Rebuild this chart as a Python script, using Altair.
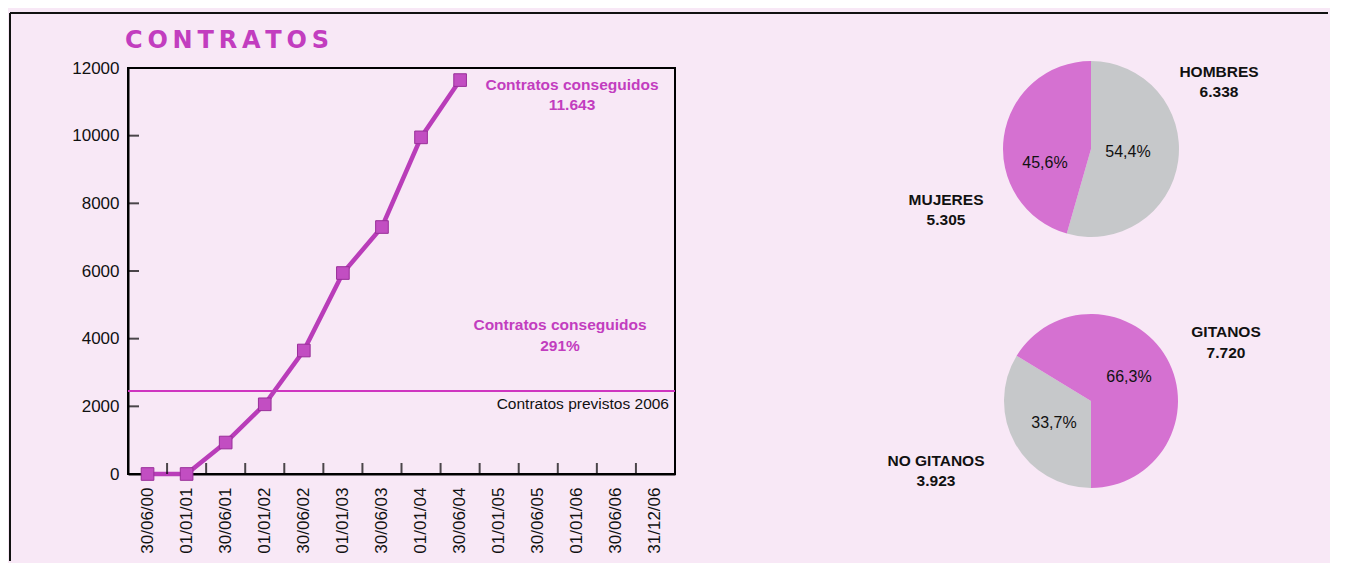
import math
import altair as alt
import pandas as pd

# ---------------- data ----------------
fechas = ["30/06/00", "01/01/01", "30/06/01", "01/01/02", "30/06/02", "01/01/03",
          "30/06/03", "01/01/04", "30/06/04", "01/01/05", "30/06/05", "01/01/06",
          "30/06/06", "31/12/06"]
contratos = [0, 0, 930, 2060, 3650, 5940, 7300, 9950, 11643]
previstos = 2450
y_ticks = [0, 2000, 4000, 6000, 8000, 10000, 12000]

titulo = "CONTRATOS"
txt_conseguidos = "Contratos conseguidos"
txt_total = "11.643"
txt_pct = "291%"
txt_previstos = "Contratos previstos 2006"

sexo = ["HOMBRES", "MUJERES"]
sexo_val = [6338, 5305]
sexo_num = ["6.338", "5.305"]
sexo_pct = ["54,4%", "45,6%"]

etnia = ["NO GITANOS", "GITANOS"]
etnia_val = [3923, 7720]
etnia_num = ["3.923", "7.720"]
etnia_pct = ["33,7%", "66,3%"]

# ---------------- style ----------------
BG = "#f8e8f6"
MAG_LINE = "#b93db9"
MAG_MARK = "#c24ec2"
MAG_TEXT = "#c23dbf"
MAG_RULE = "#cf35c0"
PIE_MAG = "#d571d1"
PIE_GRAY = "#c6c8ca"
FONT = "Liberation Sans"

W1, H1 = 547, 406
W2, H2 = 560, 406

# ---------------- line chart ----------------
df_line = pd.DataFrame({"fecha": fechas[:len(contratos)], "valor": contratos})
df_xt = pd.DataFrame({"fecha": fechas[1:]})
df_yt = pd.DataFrame({"valor": y_ticks[1:-1]})
one = pd.DataFrame({"a": [0]})

xscale = alt.Scale(domain=fechas, paddingInner=0, paddingOuter=0)
yscale = alt.Scale(domain=[0, 12000])

xaxis = alt.Axis(labelAngle=-90, labelFontSize=17, labelColor="#111", tickSize=0,
                 labelPadding=13, domainColor="black", domainWidth=2, grid=False,
                 labelOverlap=False, title=None, labelFont=FONT)
yaxis = alt.Axis(values=y_ticks, format="d", labelFontSize=17, labelColor="#111",
                 tickSize=0, labelPadding=9, domainColor="black", domainWidth=2,
                 grid=False, title=None, labelFont=FONT)

base = alt.Chart(df_line).encode(
    x=alt.X("fecha:N", scale=xscale, axis=xaxis, sort=fechas),
    y=alt.Y("valor:Q", scale=yscale, axis=yaxis),
)
line = base.mark_line(color=MAG_LINE, strokeWidth=4.5)
pts = base.mark_square(size=160, color=MAG_MARK, stroke="#992f99", strokeWidth=1, opacity=1)

xt = alt.Chart(df_xt).mark_tick(orient="vertical", size=11, thickness=2, color="black").encode(
    x=alt.X("fecha:N", scale=xscale, sort=fechas, bandPosition=0),
    y=alt.value(H1 - 5.5),
)
yt = alt.Chart(df_yt).mark_tick(orient="horizontal", size=11, thickness=2, color="black").encode(
    y=alt.Y("valor:Q", scale=yscale),
    x=alt.value(5.5),
)

rule = alt.Chart(pd.DataFrame({"valor": [previstos]})).mark_rule(
    color=MAG_RULE, strokeWidth=2).encode(y=alt.Y("valor:Q", scale=yscale))


def label(text, x, y, color="#111", size=15, weight="normal", align="center", font=FONT):
    return alt.Chart(one).mark_text(
        text=text, color=color, fontSize=size, fontWeight=weight, align=align,
        baseline="middle", font=font
    ).encode(x=alt.value(x), y=alt.value(y))


title_mark = alt.Chart(one).mark_text(
    text="\u2009".join(titulo), color=MAG_TEXT, fontSize=24, fontWeight="bold",
    font="DejaVu Sans", align="left", baseline="alphabetic"
).encode(x=alt.value(-3), y=alt.value(-20))

ann = [
    label(txt_conseguidos, 444, 17, MAG_TEXT, 15.5, "bold"),
    label(txt_total, 444, 37, MAG_TEXT, 15.5, "bold"),
    label(txt_conseguidos, 432, 257, MAG_TEXT, 15.5, "bold"),
    label(txt_pct, 432, 278, MAG_TEXT, 15.5, "bold"),
    label(txt_previstos, 541, 336, "#111", 15.5, "normal", "right"),
]

# page frame (top and left border)
frame_top = alt.Chart(one).mark_rule(color="#111", strokeWidth=2).encode(
    x=alt.value(-118), x2=alt.value(1200), y=alt.value(-55))
frame_left = alt.Chart(one).mark_rule(color="#111", strokeWidth=2).encode(
    x=alt.value(-118), y=alt.value(-55), y2=alt.value(493))

left = alt.layer(rule, line, pts, xt, yt, title_mark, *ann, frame_top, frame_left).properties(
    width=W1, height=H1, view=alt.ViewBackground(stroke="black", strokeWidth=2))

# ---------------- pies ----------------
df_s = pd.DataFrame({"k1": sexo, "v1": sexo_val, "i1": [0, 1]})
df_e = pd.DataFrame({"k2": etnia, "v2": etnia_val, "i2": [0, 1]})

pie1 = alt.Chart(df_s).mark_arc(radius=88).encode(
    theta=alt.Theta("v1:Q", stack=True, scale=alt.Scale(range=[0, 2 * math.pi])),
    color=alt.Color("k1:N", scale=alt.Scale(domain=sexo, range=[PIE_GRAY, PIE_MAG]), legend=None),
    order=alt.Order("i1:Q"),
    x=alt.value(396), y=alt.value(81),
)
pie2 = alt.Chart(df_e).mark_arc(radius=87).encode(
    theta=alt.Theta("v2:Q", stack=True, scale=alt.Scale(range=[math.pi, 3 * math.pi])),
    color=alt.Color("k2:N", scale=alt.Scale(domain=etnia, range=[PIE_GRAY, PIE_MAG]), legend=None),
    order=alt.Order("i2:Q"),
    x=alt.value(396), y=alt.value(333),
)

pie_txt = [
    label(sexo[0], 524, 4, "#111", 15.5, "bold"),
    label(sexo_num[0], 524, 24, "#111", 15.5, "bold"),
    label(sexo[1], 251, 132, "#111", 15.5, "bold"),
    label(sexo_num[1], 251, 152, "#111", 15.5, "bold"),
    label(sexo_pct[0], 433, 84, "#111", 16),
    label(sexo_pct[1], 350, 95, "#111", 16),
    label(etnia[1], 531, 264, "#111", 15.5, "bold"),
    label(etnia_num[1], 531, 285, "#111", 15.5, "bold"),
    label(etnia[0], 241, 393, "#111", 15.5, "bold"),
    label(etnia_num[0], 241, 413, "#111", 15.5, "bold"),
    label(etnia_pct[1], 434, 309, "#111", 16),
    label(etnia_pct[0], 359, 355, "#111", 16),
]

right = alt.layer(pie1, pie2, *pie_txt).resolve_scale(
    theta="independent", color="independent").properties(
    width=W2, height=H2, view=alt.ViewBackground(stroke="transparent", strokeWidth=0))

chart = alt.hconcat(left, right, spacing=20, bounds="flush").properties(
    padding={"left": 0, "top": 3, "right": 0, "bottom": 0},
    background=BG,
).configure_view(strokeWidth=0).configure(font=FONT)

chart.save("out.html", embed_options={"renderer": "svg", "actions": False})
